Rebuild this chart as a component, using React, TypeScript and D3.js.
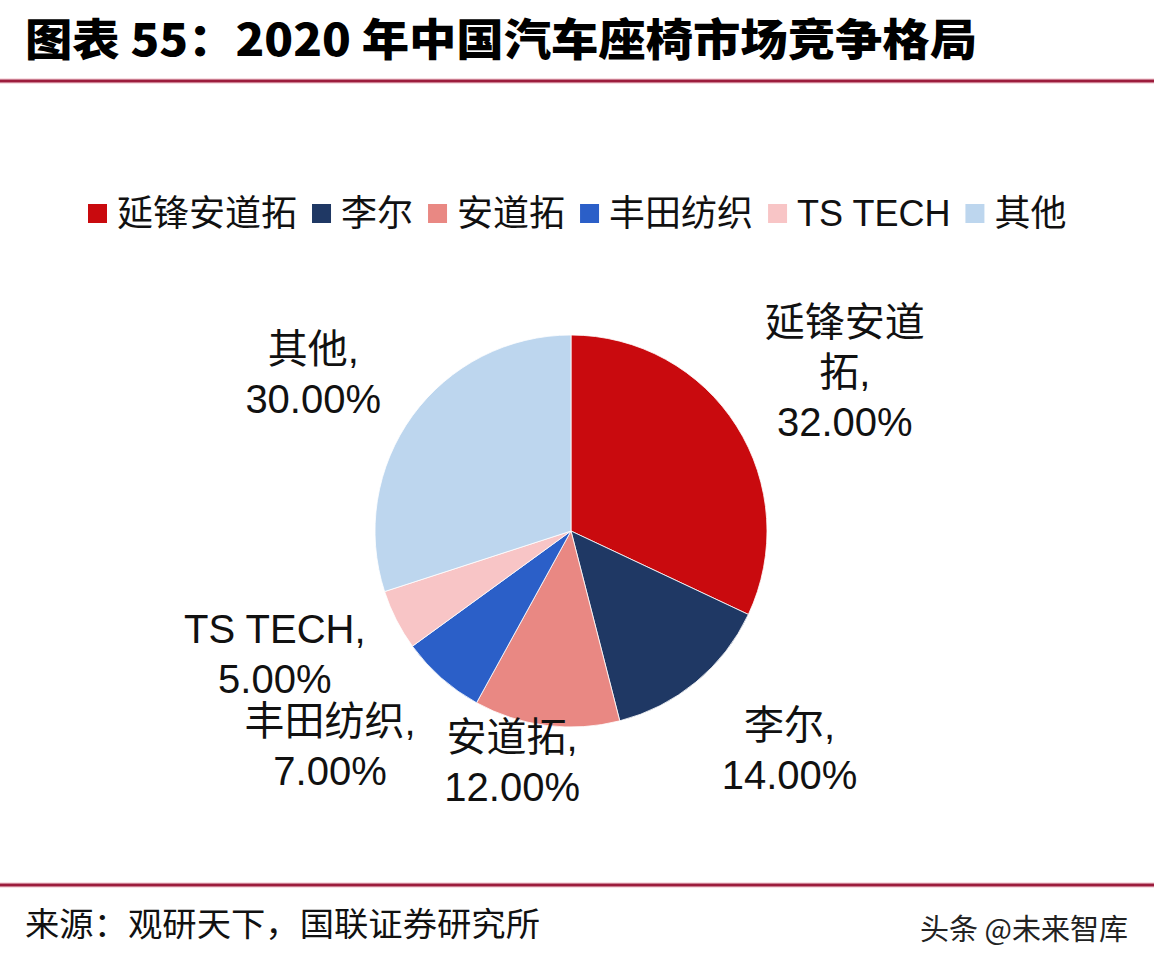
import React, { useEffect, useRef } from "react";
import * as d3 from "d3";

// data
const categories = ["延锋安道拓", "李尔", "安道拓", "丰田纺织", "TS TECH", "其他"];
const shares = [32, 14, 12, 7, 5, 30];
const sliceColors = ["#C90A0E", "#1F3864", "#E98883", "#2B5FC8", "#F8C5C6", "#BDD6EE"];

const titleText = "图表 55：2020 年中国汽车座椅市场竞争格局";
const sourceText = "来源：观研天下，国联证券研究所";
const watermarkText = "头条 @未来智库";

// layout
const W = 1154;
const H = 970;
const cx = 571;
const cy = 531;
const radius = 196;
const labelRadius = 310;
const labelNudge: Record<string, [number, number]> = {
  "延锋安道拓": [12, 7],
  "李尔": [21, -20],
  "安道拓": [-20, -77],
  "丰田纺织": [-36, -18],
  "TS TECH": [-20, -18],
  "其他": [-7, 25],
};

const FONT = "'Liberation Sans', Arial, 'Noto Sans CJK SC', sans-serif";
const CJK = "'Noto Sans CJK SC', 'Noto Sans', sans-serif";

function labelLines(name: string, value: number): string[] {
  const pct = value.toFixed(2) + "%";
  const isCjk = /[\u4e00-\u9fff]/.test(name);
  if (isCjk && name.length > 4) {
    const parts: string[] = [];
    for (let i = 0; i < name.length; i += 4) parts.push(name.slice(i, i + 4));
    parts[parts.length - 1] += ",";
    return [...parts, pct];
  }
  return [name + ",", pct];
}

export default function App() {
  const svgRef = useRef<SVGSVGElement>(null);

  useEffect(() => {
    if (!svgRef.current) return;
    const svg = d3.select(svgRef.current);
    svg.selectAll("*").remove();

    svg.append("rect").attr("width", W).attr("height", H).attr("fill", "#fff");

    // title
    svg.append("text")
      .attr("x", 25)
      .attr("y", 56)
      .attr("textLength", 952)
      .attr("lengthAdjust", "spacingAndGlyphs")
      .style("font-family", CJK)
      .style("font-weight", 900)
      .style("font-size", "44px")
      .attr("fill", "#000")
      .text(titleText);

    // rules
    [81, 885].forEach(y => {
      svg.append("rect").attr("x", 0).attr("y", y - 3).attr("width", W).attr("height", 6)
        .attr("fill", "#F4C9D2").attr("opacity", 0.6);
      svg.append("rect").attr("x", 0).attr("y", y - 1.5).attr("width", W).attr("height", 3)
        .attr("fill", "#9C1C3C");
    });

    // legend
    const legend = svg.append("g");
    let lx = 88;
    const ly = 213;
    const sq = 19;
    categories.forEach((c, i) => {
      legend.append("rect")
        .attr("x", lx).attr("y", ly - sq / 2 + 0.5)
        .attr("width", sq).attr("height", sq)
        .attr("fill", sliceColors[i]);
      lx += sq + 10;
      const t = legend.append("text")
        .attr("x", lx)
        .attr("y", ly + 13)
        .style("font-family", FONT)
        .style("font-size", "36px")
        .attr("fill", "#111")
        .text(c);
      const w = (t.node() as SVGTextElement).getComputedTextLength();
      lx += w + 15;
    });

    // pie
    const pie = d3.pie<number>().sort(null).value(d => d);
    const arcs = pie(shares);
    const arc = d3.arc<d3.PieArcDatum<number>>().innerRadius(0).outerRadius(radius);
    const labelArc = d3.arc<d3.PieArcDatum<number>>().innerRadius(labelRadius).outerRadius(labelRadius);

    const g = svg.append("g").attr("transform", `translate(${cx},${cy})`);
    g.selectAll("path")
      .data(arcs)
      .enter()
      .append("path")
      .attr("d", arc)
      .attr("fill", (_d, i) => sliceColors[i])
      .attr("stroke", "#fff")
      .attr("stroke-width", 0.8);

    // data labels
    const lh = 50;
    const fs = 40;
    arcs.forEach((a, i) => {
      const name = categories[i];
      const [px, py] = labelArc.centroid(a);
      const [nx, ny] = labelNudge[name] || [0, 0];
      const x = px + nx;
      const y = py + ny;
      const lines = labelLines(name, a.data);
      const t = g.append("text")
        .attr("text-anchor", "middle")
        .style("font-family", FONT)
        .style("font-size", fs + "px")
        .attr("fill", "#111");
      lines.forEach((ln, k) => {
        t.append("tspan")
          .attr("x", x)
          .attr("y", y - ((lines.length - 1) * lh) / 2 + k * lh + fs * 0.35)
          .text(ln);
      });
    });

    // footer
    svg.append("text")
      .attr("x", 25)
      .attr("y", 936)
      .attr("textLength", 515)
      .attr("lengthAdjust", "spacingAndGlyphs")
      .style("font-family", CJK)
      .style("font-size", "33px")
      .attr("fill", "#111")
      .text(sourceText);

    svg.append("text")
      .attr("x", 1128)
      .attr("y", 940)
      .attr("text-anchor", "end")
      .style("font-family", CJK)
      .style("font-size", "29px")
      .attr("fill", "#222")
      .text(watermarkText);
  }, []);

  return (
    <div style={{ position: "absolute", left: 0, top: 0 }}>
      <svg ref={svgRef} width={W} height={H} />
    </div>
  );
}
